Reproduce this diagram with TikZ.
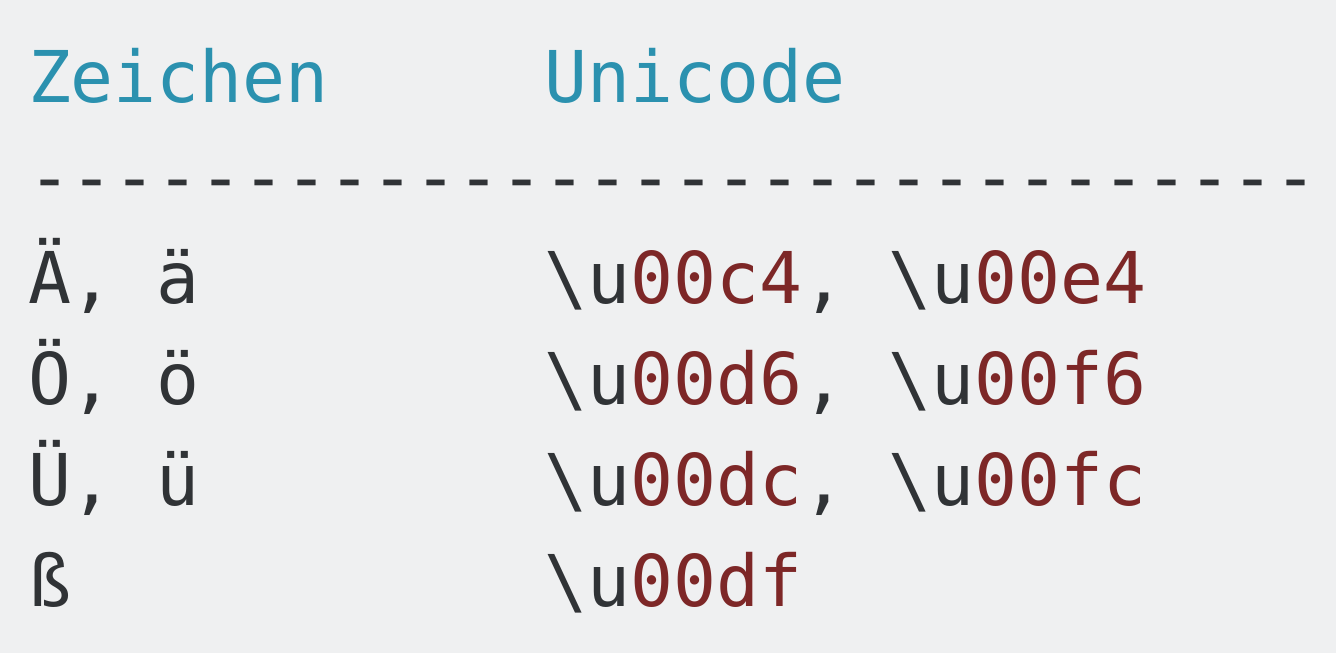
\documentclass[tikz,border=0pt]{standalone}
\usepackage{fontspec}
\setmonofont{DejaVu Sans Mono}
\definecolor{codebg}{HTML}{EFF0F1}
\definecolor{pln}{HTML}{303336}
\definecolor{typ}{HTML}{2B91AF}
\definecolor{lit}{HTML}{7D2727}
\newcommand{\lt}[1]{\textcolor{lit}{#1}}
\newcommand{\bs}{\textbackslash}
\begin{document}
\begin{tikzpicture}[x=1pt,y=1pt,
  code/.style={anchor=base west,inner sep=0pt,outer sep=0pt,text=pln,
    font=\ttfamily\fontsize{35.7}{50.4}\selectfont}]
\fill[codebg] (0,0) rectangle (668,-326.5);
\useasboundingbox (0,0) rectangle (668,-326.5);
\def\cx{14}
\def\cy{272.2}
\node[code,text=typ] (h1) at (\cx,-51) {Zeichen};
\node[code,text=typ] (h2) at (\cy,-51) {Unicode};
\node[code] (sep) at (\cx,-101.4) {------------------------------};
\node[code] (a1) at (\cx,-151.8) {Ä,~ä};
\node[code] (a2) at (\cy,-151.8) {\bs u\lt{00c4},~\bs u\lt{00e4}};
\node[code] (o1) at (\cx,-202.2) {Ö,~ö};
\node[code] (o2) at (\cy,-202.2) {\bs u\lt{00d6},~\bs u\lt{00f6}};
\node[code] (u1) at (\cx,-252.6) {Ü,~ü};
\node[code] (u2) at (\cy,-252.6) {\bs u\lt{00dc},~\bs u\lt{00fc}};
\node[code] (s1) at (\cx,-303) {ß};
\node[code] (s2) at (\cy,-303) {\bs u\lt{00df}};
\end{tikzpicture}
\end{document}
